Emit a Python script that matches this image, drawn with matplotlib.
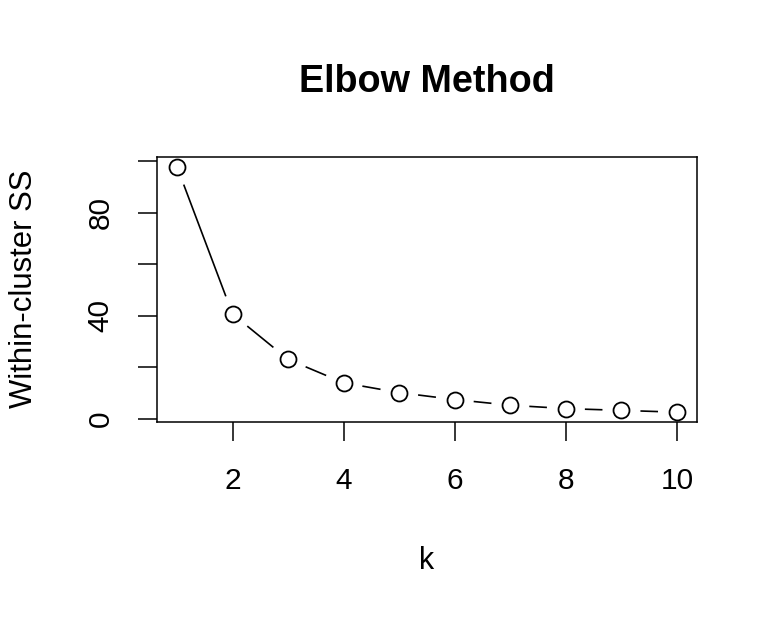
import numpy as np
import matplotlib
matplotlib.use("Agg")
import matplotlib.pyplot as plt

# elbow curve values
k = [1, 2, 3, 4, 5, 6, 7, 8, 9, 10]
wss = [97.8, 40.6, 23.0, 13.9, 10.1, 7.4, 5.2, 3.9, 3.2, 2.5]
xticks = [2, 4, 6, 8, 10]
yticks = [0, 20, 40, 60, 80, 100]
ylabels = ["0", "", "40", "", "80", ""]

plt.rcParams['font.family'] = ['Liberation Sans', 'DejaVu Sans']

W, H = 778, 618
fig = plt.figure(figsize=(W / 100, H / 100), dpi=100)
ax = fig.add_axes([157 / W, 1 - 422 / H, 540 / W, 265 / H])

# R style axis range: data range padded by 4%
xr = max(k) - min(k)
yr = max(wss) - min(wss)
ax.set_xlim(min(k) - 0.04 * xr, max(k) + 0.04 * xr)
ax.set_ylim(min(wss) - 0.04 * yr, max(wss) + 0.04 * yr)

# type="b": segments broken around each point
fig.canvas.draw()
pts = ax.transData.transform(np.column_stack([k, wss]))
inv = ax.transData.inverted()
g = 19  # gap radius in pixels
for (x0, y0), (x1, y1) in zip(pts[:-1], pts[1:]):
    d = np.hypot(x1 - x0, y1 - y0)
    if d <= 2 * g:
        continue
    ux, uy = (x1 - x0) / d, (y1 - y0) / d
    a = inv.transform((x0 + ux * g, y0 + uy * g))
    b = inv.transform((x1 - ux * g, y1 - uy * g))
    ax.plot([a[0], b[0]], [a[1], b[1]], color="black", lw=1.2, solid_capstyle="butt")

ax.plot(k, wss, "o", ms=11.5, mfc="white", mec="black", mew=1.3, ls="none")

for s in ax.spines.values():
    s.set_linewidth(1.1)

ax.set_xticks(xticks)
ax.set_yticks(yticks)
ax.set_yticklabels(ylabels, rotation=90, va="center")
ax.tick_params(axis="both", length=13.5, width=1.1, labelsize=21.5, direction="out")
ax.tick_params(axis="x", pad=19)
ax.tick_params(axis="y", pad=17)

fig.text(427 / W, 1 - 569 / H, "k", fontsize=22, ha="center", va="baseline")
fig.text(24 / W, 1 - 289 / H, "Within-cluster SS", fontsize=22.3, rotation=90,
         ha="center", va="center")
fig.text(427 / W, 1 - 92 / H, "Elbow Method", fontsize=27.2, fontweight="bold",
         ha="center", va="baseline")

fig.savefig("out.png", dpi=100)
